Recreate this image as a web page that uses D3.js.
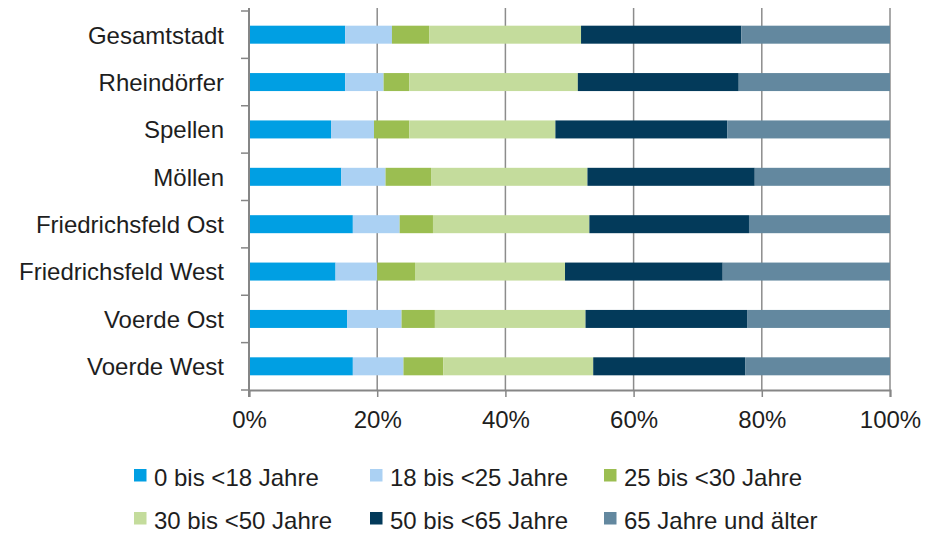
<!DOCTYPE html>
<html>
<head>
<meta charset="utf-8">
<script src="https://cdn.jsdelivr.net/npm/d3@7"></script>
<style>
    body{ margin:0; background:#fff; }
    svg text{ font-family:"Liberation Sans", Arial, sans-serif; fill:#1e1e1e; }
</style>
</head>
<body>
<div id="chart"></div>
<script>
// districts, top to bottom
var districts = ['Gesamtstadt', 'Rheindörfer', 'Spellen', 'Möllen',
    'Friedrichsfeld Ost', 'Friedrichsfeld West', 'Voerde Ost', 'Voerde West'];

// age groups (legend order)
var ageGroups = ['0 bis <18 Jahre', '18 bis <25 Jahre', '25 bis <30 Jahre',
    '30 bis <50 Jahre', '50 bis <65 Jahre', '65 Jahre und älter'];

// shares in percent, one array per age group, same order as districts
var age0to18  = [15.0, 15.0, 12.8, 14.4, 16.2, 13.5, 15.3, 16.2];
var age18to25 = [ 7.3,  6.0,  6.7,  6.9,  7.3,  6.5,  8.5,  7.9];
var age25to30 = [ 5.8,  4.0,  5.5,  7.1,  5.2,  5.9,  5.2,  6.2];
var age30to50 = [23.7, 26.3, 22.8, 24.4, 24.4, 23.4, 23.5, 23.4];
var age50to65 = [25.0, 25.1, 26.8, 26.1, 24.9, 24.6, 25.2, 23.7];
var age65plus = [23.2, 23.6, 25.4, 21.1, 22.0, 26.1, 22.3, 22.6];

var tickValues = [0, 0.2, 0.4, 0.6, 0.8, 1];

var colors = ['#009fe3', '#abd1f3', '#9bbe51', '#c4dc9c', '#033a5a', '#63889f'];

var series = [age0to18, age18to25, age25to30, age30to50, age50to65, age65plus];

// build rows for d3.stack, normalised to 1
var rows = districts.map(function(d, i){
    var row = {district: d};
    var total = 0;
    series.forEach(function(s){ total += s[i]; });
    ageGroups.forEach(function(g, k){ row[g] = series[k][i] / total; });
    return row;
});

// note: "top" is taken by window.top, so plot edges get their own names
var width = 925, height = 535;
var plotLeft = 249, plotRight = 890, plotTop = 11, plotBottom = 390;

var svg = d3.select('#chart').append('svg')
    .attr('width', width)
    .attr('height', height);

var x = d3.scaleLinear().domain([0, 1]).range([plotLeft, plotRight]);
var y = d3.scaleBand().domain(districts).range([plotTop, plotBottom])
    .paddingInner(0.62).paddingOuter(0.31);

// gridlines
svg.append('g')
    .selectAll('line')
    .data(tickValues.slice(1))
    .enter().append('line')
        .attr('x1', function(d){ return x(d); })
        .attr('x2', function(d){ return x(d); })
        .attr('y1', plotTop - 3)
        .attr('y2', plotBottom)
        .attr('stroke', '#8c8c8c')
        .attr('stroke-width', 1.5);

// stacked bars
var stacked = d3.stack().keys(ageGroups)(rows);

svg.append('g')
    .selectAll('g')
    .data(stacked)
    .enter().append('g')
        .attr('fill', function(d, i){ return colors[i]; })
    .selectAll('rect')
    .data(function(d){ return d; })
    .enter().append('rect')
        .attr('x', function(d){ return x(d[0]); })
        .attr('width', function(d){ return x(d[1]) - x(d[0]); })
        .attr('y', function(d){ return y(d.data.district); })
        .attr('height', y.bandwidth());

// x axis
var xAxis = svg.append('g')
    .attr('transform', 'translate(0,' + plotBottom + ')')
    .call(d3.axisBottom(x).tickValues(tickValues).tickSize(7).tickPadding(14)
        .tickFormat(d3.format('.0%')));
xAxis.select('.domain').attr('stroke', '#868686').attr('stroke-width', 2);
xAxis.selectAll('.tick line').attr('stroke', '#868686').attr('stroke-width', 1.5);
xAxis.selectAll('.tick text')
    .attr('font-size', 24)
    .style('font-family', '"Liberation Sans", Arial, sans-serif')
    .attr('fill', '#1e1e1e');

// y axis: line, ticks between categories
svg.append('line')
    .attr('x1', plotLeft).attr('x2', plotLeft)
    .attr('y1', plotTop - 3).attr('y2', plotBottom + 7)
    .attr('stroke', '#868686').attr('stroke-width', 2);

var boundaries = districts.map(function(d, i){ return plotTop + i * y.step(); });
boundaries.push(plotBottom);

svg.append('g')
    .selectAll('line')
    .data(boundaries)
    .enter().append('line')
        .attr('x1', plotLeft - 8).attr('x2', plotLeft)
        .attr('y1', function(d){ return d; })
        .attr('y2', function(d){ return d; })
        .attr('stroke', '#868686').attr('stroke-width', 1.5);

svg.append('g')
    .selectAll('text')
    .data(districts)
    .enter().append('text')
        .attr('x', plotLeft - 25)
        .attr('y', function(d){ return y(d) + y.bandwidth() / 2; })
        .attr('dy', '0.37em')
        .attr('text-anchor', 'end')
        .attr('font-size', 24)
        .text(function(d){ return d; });

// legend, 3 per row
var legendX = [134, 370, 604], legendY = [469, 512];

var legend = svg.append('g')
    .selectAll('g')
    .data(ageGroups)
    .enter().append('g')
        .attr('transform', function(d, i){
            return 'translate(' + legendX[i % 3] + ',' + legendY[Math.floor(i / 3)] + ')';
        });

legend.append('rect')
    .attr('width', 12.5)
    .attr('height', 12.5)
    .attr('fill', function(d, i){ return colors[i]; });

legend.append('text')
    .attr('x', 20)
    .attr('y', 17)
    .attr('font-size', 24)
    .text(function(d){ return d; });
</script>
</body>
</html>
